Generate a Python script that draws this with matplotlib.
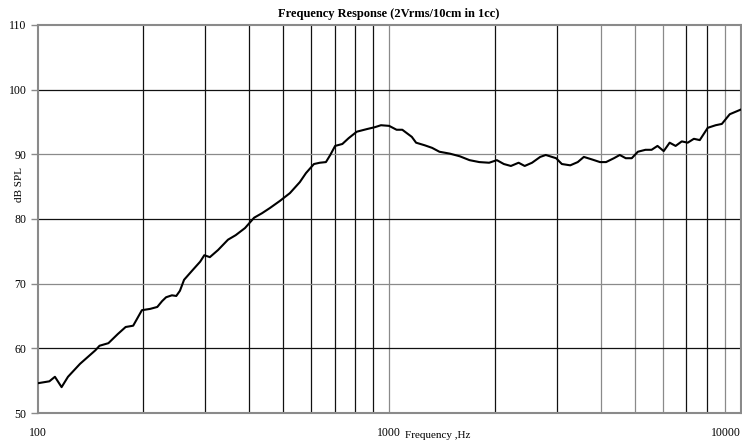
import matplotlib
matplotlib.use("Agg")
import matplotlib.pyplot as plt
import numpy as np

freq = [100, 108, 112, 117, 122, 132, 146, 150, 159, 169, 178, 187, 198, 209, 219, 226,
        232, 241, 248, 254, 261, 275, 290, 298, 309, 326, 348, 366, 389, 413, 435, 458,
        489, 522, 557, 580, 611, 635, 661, 680, 702, 736, 767, 809, 864, 911, 948, 1000,
        1050, 1090, 1160, 1193, 1262, 1325, 1390, 1490, 1588, 1693, 1805, 1925, 2025, 2120,
        2220, 2335, 2430, 2550, 2690, 2790, 2985, 3100, 3275, 3440, 3580, 3780, 3980, 4140,
        4360, 4530, 4710, 4900, 5100, 5360, 5580, 5800, 6040, 6280, 6530, 6800, 7070, 7360,
        7650, 8060, 8490, 8840, 9310, 9990]
spl = [54.6, 54.9, 55.6, 54.0, 55.6, 57.6, 59.7, 60.4, 60.8, 62.2, 63.3, 63.5, 65.9, 66.1, 66.4, 67.3,
       67.9, 68.2, 68.1, 68.9, 70.6, 72.0, 73.4, 74.4, 74.1, 75.2, 76.8, 77.5, 78.6, 80.2, 80.9, 81.7,
       82.8, 84.0, 85.7, 87.1, 88.5, 88.7, 88.8, 89.9, 91.3, 91.6, 92.5, 93.5, 93.9, 94.2, 94.5, 94.4,
       93.8, 93.8, 92.7, 91.8, 91.4, 91.0, 90.4, 90.1, 89.7, 89.1, 88.8, 88.7, 89.1, 88.5,
       88.2, 88.7, 88.2, 88.7, 89.6, 89.9, 89.4, 88.5, 88.3, 88.8, 89.6, 89.2, 88.8, 88.8,
       89.4, 89.9, 89.4, 89.4, 90.4, 90.7, 90.7, 91.3, 90.5, 91.8, 91.3, 92.0, 91.8, 92.4,
       92.2, 94.1, 94.5, 94.7, 96.2, 96.9]

y_ticks = [50, 60, 70, 80, 90, 100, 110]
x_labels = ["100", "1000", "10000"]
x_label_pos = [100, 1000, 10000]

serif = ["Liberation Serif", "DejaVu Serif"]

fig = plt.figure(figsize=(7.42, 4.43), dpi=100)
ax = fig.add_axes([0.0507, 0.0677, 0.9475, 0.8759])
ax.set_xscale("log")
ax.set_xlim(100, 10000)
ax.set_ylim(50, 110)

# grid
minor = [200, 300, 400, 500, 600, 700, 800, 900, 1000, 2000, 3000, 4000, 5000, 6000, 7000, 8000, 9000]
gray_v = {1000, 4000, 5000, 6000, 9000}
for f in minor:
    ax.axvline(f, color="#8a8a8a" if f in gray_v else "#111111", lw=0.9, zorder=1)
gray_h = {70, 90}
for y in y_ticks[1:-1]:
    ax.axhline(y, color="#8a8a8a" if y in gray_h else "#111111", lw=0.9, zorder=1)

ax.plot(freq, spl, color="black", lw=1.5, zorder=3)

for s in ax.spines.values():
    s.set_color("#8a8a8a")
    s.set_linewidth(1.5)

ax.set_yticks(y_ticks)
ax.set_yticklabels([str(v) for v in y_ticks], fontfamily=serif, fontsize=8.5)
ax.tick_params(axis="y", length=5, color="#8a8a8a", width=1, pad=3)
ax.set_xticks(x_label_pos)
labels = ax.set_xticklabels(x_labels, fontfamily=serif, fontsize=8.5)
labels[-1].set_horizontalalignment("right")
ax.xaxis.set_minor_locator(matplotlib.ticker.NullLocator())
ax.tick_params(axis="x", length=0, pad=10)

ax.set_title("Frequency Response (2Vrms/10cm in 1cc)", fontfamily=serif, fontweight="bold",
             fontsize=9, pad=6)
fig.text(405 / 742, 1 - 436 / 443, "Frequency ,Hz", fontfamily=serif, fontsize=8,
         ha="left", va="center")
fig.text(20 / 742, 1 - 185 / 443, "dB SPL", fontfamily=serif, fontsize=8,
         rotation=90, ha="center", va="center")

fig.savefig("out.png", dpi=100)
